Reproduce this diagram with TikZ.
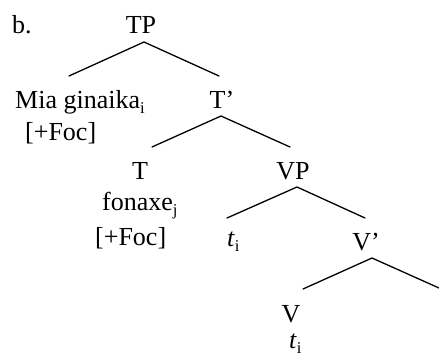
\documentclass[tikz,border=0pt]{standalone}
\usepackage{fontspec}
\setmainfont{Liberation Serif}
\newcommand{\mysub}[1]{\raisebox{-0.2em}{\fontsize{16.5}{16.5}\selectfont #1}}
\begin{document}
\begin{tikzpicture}[x=1pt,y=-1pt,
  lbl/.style={inner sep=0pt,font=\fontsize{26}{30}\selectfont},
  branch/.style={line width=1.3pt,line cap=round}]
\useasboundingbox (0,0) rectangle (439,356);
% labels
\node[lbl,anchor=base west] (b) at (12,33) {b.};
\node[lbl,anchor=base] (TP) at (141,33) {TP};
\node[lbl,anchor=base west] (Mia) at (15,108) {Mia ginaika\mysub{i}};
\node[lbl,anchor=base west] (foc1) at (25,140) {[+Foc]};
\node[lbl,anchor=base] (Tbar) at (222,108) {T’};
\node[lbl,anchor=base] (T) at (140,179) {T};
\node[lbl,anchor=base] (VP) at (293,179) {VP};
\node[lbl,anchor=base west] (fon) at (102,210) {fonaxe\mysub{j}};
\node[lbl,anchor=base west] (foc2) at (95,245) {[+Foc]};
\node[lbl,anchor=base west] (t1) at (227,246) {\textit{t}\mysub{i}};
\node[lbl,anchor=base] (Vbar) at (366,250) {V’};
\node[lbl,anchor=base] (V) at (291,322) {V};
\node[lbl,anchor=base west] (t2) at (289,348) {\textit{t}\mysub{i}};
% branch points
\coordinate (TPa) at (144,42);
\coordinate (TPl) at (69,76);
\coordinate (TPr) at (219,76);
\coordinate (Ta) at (221,116);
\coordinate (Tl) at (152,147);
\coordinate (Tr) at (290,147);
\coordinate (VPa) at (297,187);
\coordinate (VPl) at (227,218);
\coordinate (VPr) at (365,218);
\coordinate (Va) at (372,258);
\coordinate (Vl) at (303,289);
\coordinate (Vr) at (439,288);
\draw[branch] (TPl) -- (TPa) -- (TPr);
\draw[branch] (Tl) -- (Ta) -- (Tr);
\draw[branch] (VPl) -- (VPa) -- (VPr);
\draw[branch] (Vl) -- (Va) -- (Vr);
\end{tikzpicture}
\end{document}
